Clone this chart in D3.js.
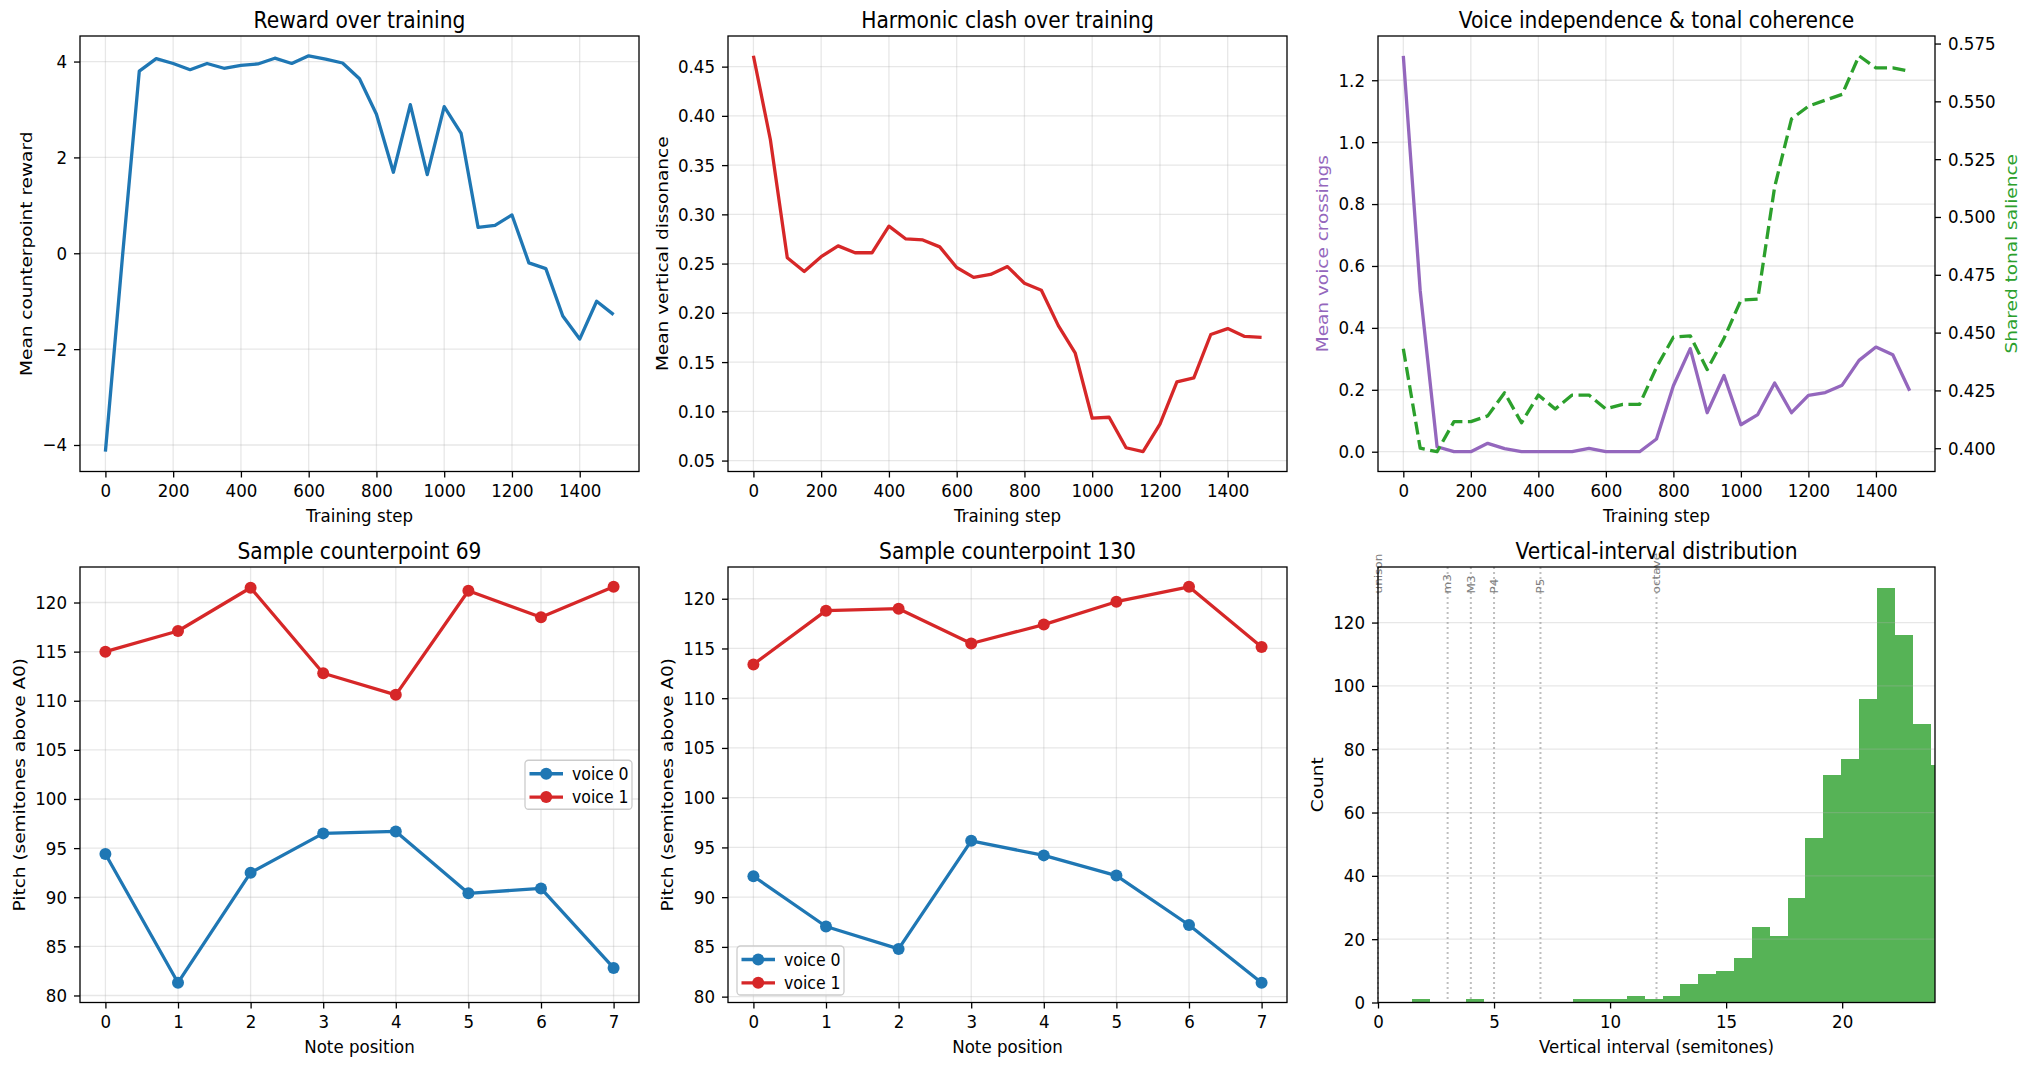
<!DOCTYPE html>
<html>
<head>
<meta charset="utf-8">
<script src="https://cdn.jsdelivr.net/npm/d3@7"></script>
<style>
body{margin:0;background:#fff}
svg text{font-family:"DejaVu Sans",sans-serif}
</style>
</head>
<body>
<div id="chart"></div>
<script>
// training curves (one value every 50 steps)
var steps = [0,50,100,150,200,250,300,350,400,450,500,550,600,650,700,750,800,850,900,950,1000,1050,1100,1150,1200,1250,1300,1350,1400,1450,1500];
var reward = [-4.14,-0.1,3.80,4.06,3.96,3.83,3.96,3.86,3.92,3.95,4.07,3.96,4.12,4.05,3.97,3.64,2.90,1.69,3.10,1.64,3.06,2.50,0.54,0.58,0.80,-0.20,-0.32,-1.31,-1.79,-1.00,-1.28];
var dissonance = [0.461,0.376,0.256,0.242,0.257,0.268,0.261,0.261,0.288,0.275,0.274,0.267,0.246,0.236,0.239,0.247,0.230,0.223,0.187,0.159,0.093,0.094,0.063,0.059,0.087,0.130,0.134,0.178,0.184,0.176,0.175];
var crossings = [1.279,0.52,0.016,0,0,0.027,0.010,0,0,0,0,0.011,0,0,0,0.041,0.213,0.333,0.126,0.246,0.087,0.120,0.222,0.126,0.182,0.191,0.215,0.295,0.338,0.313,0.197];
var salience = [0.443,0.400,0.3985,0.4115,0.4115,0.414,0.424,0.411,0.423,0.417,0.423,0.423,0.417,0.419,0.419,0.435,0.448,0.4486,0.434,0.4475,0.464,0.4645,0.513,0.5424,0.5479,0.5505,0.553,0.5697,0.5645,0.5645,0.563];

// sample counterpoints
var notePos = [0,1,2,3,4,5,6,7];
var s69v0 = [94.4,81.3,92.5,96.5,96.7,90.4,90.9,82.8];
var s69v1 = [115.0,117.1,121.5,112.8,110.6,121.2,118.5,121.6];
var s130v0 = [92.1,87.05,84.8,95.66,94.2,92.17,87.2,81.4];
var s130v1 = [113.4,118.8,119.0,115.5,117.4,119.7,121.2,115.15];

// vertical interval histogram
var binEdges = [1.48,2.25,3.02,3.79,4.56,5.33,6.10,6.87,7.64,8.41,9.18,9.95,10.72,11.49,12.26,13.03,13.80,14.57,15.34,16.11,16.88,17.65,18.42,19.19,19.96,20.73,21.50,22.27,23.04,23.81,24.58];
var binCounts = [1,0,0,1,0,0,0,0,0,1,1,1,2,1,2,6,9,10,14,24,21,33,52,72,77,96,131,116,88,75];
var intervalPos = [0,3,4,5,7,12];
var intervalNames = ["unison","m3","M3","P4","P5","octave"];

// tick labels
var stepTicks = [0,200,400,600,800,1000,1200,1400];
var rewardTicks = [-4,-2,0,2,4];
var dissTicks = [0.05,0.10,0.15,0.20,0.25,0.30,0.35,0.40,0.45];
var crossTicks = [0,0.2,0.4,0.6,0.8,1.0,1.2];
var salTicks = [0.400,0.425,0.450,0.475,0.500,0.525,0.550,0.575];
var pitchTicks = [80,85,90,95,100,105,110,115,120];
var countTicks = [0,20,40,60,80,100,120];
var intTicks = [0,5,10,15,20];

var BLUE="#1f77b4", RED="#d62728", PURPLE="#9467bd", GREEN="#2ca02c";
var TX = 0.9;             // text in the reference is a bit narrow
var FS = 18.5, FT = 22.5, FL = 17.5, FI = 12;
var LW = 3.3;

var svg = d3.select("#chart").append("svg").attr("width",2030).attr("height",1068);

var colX = [[80,639],[728,1287],[1378,1935]];
var rowY = [[36,471.5],[567,1002.5]];

function pad5(lo,hi){ var d=(hi-lo)*0.05; return [lo-d,hi+d]; }

function squeeze(sel){
  sel.each(function(){
    var t=d3.select(this);
    var x=+t.attr("x")||0, y=+t.attr("y")||0;
    t.attr("x",null).attr("y",null)
     .attr("transform","translate("+x+","+y+") scale("+TX+",1)");
  });
}

function panel(c,r,title){
  var p={l:colX[c][0],r:colX[c][1],t:rowY[r][0],b:rowY[r][1]};
  p.g=svg.append("g");
  p.grid=p.g.append("g");
  p.data=p.g.append("g");
  p.top=p.g.append("g");
  p.g.append("text").attr("font-size",FT).attr("text-anchor","middle")
    .attr("transform","translate("+((p.l+p.r)/2)+","+(p.t-8)+") scale("+TX+",1)")
    .text(title);
  return p;
}

function frame(p){
  p.top.append("rect").attr("x",p.l).attr("y",p.t).attr("width",p.r-p.l).attr("height",p.b-p.t)
    .attr("fill","none").attr("stroke","#000").attr("stroke-width",1.3);
}

function gridX(p,sx,ticks){
  p.grid.selectAll(null).data(ticks).enter().append("line")
    .attr("x1",function(d){return sx(d);}).attr("x2",function(d){return sx(d);})
    .attr("y1",p.t).attr("y2",p.b)
    .attr("stroke","#b0b0b0").attr("stroke-opacity",0.3).attr("stroke-width",1.3);
}
function gridY(p,sy,ticks){
  p.grid.selectAll(null).data(ticks).enter().append("line")
    .attr("y1",function(d){return sy(d);}).attr("y2",function(d){return sy(d);})
    .attr("x1",p.l).attr("x2",p.r)
    .attr("stroke","#b0b0b0").attr("stroke-opacity",0.3).attr("stroke-width",1.3);
}

function styleAxis(g){
  g.attr("font-size",FS).attr("font-family","DejaVu Sans");
  g.select(".domain").remove();
  g.selectAll(".tick line").attr("stroke","#000").attr("stroke-width",1.3);
  g.selectAll(".tick text").attr("fill","#000");
  squeeze(g.selectAll(".tick text"));
}

function xAxis(p,sx,ticks,fmt){
  var g=p.top.append("g").attr("transform","translate(0,"+p.b+")")
    .call(d3.axisBottom(sx).tickValues(ticks).tickFormat(fmt).tickSize(6).tickPadding(6.8));
  styleAxis(g);
  return g;
}
function yAxis(p,sy,ticks,fmt,right){
  var ax = right ? d3.axisRight(sy) : d3.axisLeft(sy);
  var g=p.top.append("g").attr("transform","translate("+(right?p.r:p.l)+",0)")
    .call(ax.tickValues(ticks).tickFormat(fmt).tickSize(6).tickPadding(7));
  styleAxis(g);
  return g;
}

function xLabel(p,txt){
  p.g.append("text").attr("font-size",FS).attr("text-anchor","middle")
    .attr("transform","translate("+((p.l+p.r)/2)+","+(p.b+50)+") scale("+TX+",1)")
    .text(txt);
}
function yLabel(p,axG,txt,col,right){
  var bb=axG.node().getBBox();
  var x = right ? p.r+bb.x+bb.width+6.4+0.93*FS*TX : p.l+bb.x-6.4-0.24*FS*TX;
  p.g.append("text").attr("font-size",FS).attr("text-anchor","middle").attr("fill",col||"#000")
    .attr("transform","translate("+x+","+((p.t+p.b)/2)+") scale("+TX+",1) rotate(-90)")
    .text(txt);
}

function drawLine(p,sx,sy,xs,ys,col,dash){
  var line=d3.line().x(function(d,i){return sx(xs[i]);}).y(function(d){return sy(d);});
  p.data.append("path").datum(ys).attr("d",line).attr("fill","none")
    .attr("stroke",col).attr("stroke-width",LW).attr("stroke-linejoin","round")
    .attr("stroke-dasharray",dash||null);
}
function drawDots(p,sx,sy,xs,ys,col){
  p.data.selectAll(null).data(ys).enter().append("circle")
    .attr("cx",function(d,i){return sx(xs[i]);}).attr("cy",function(d){return sy(d);})
    .attr("r",6).attr("fill",col);
}

function legend(p,x,y,names,cols){
  var lg=p.top.append("g").attr("transform","translate("+x+","+y+")");
  lg.append("rect").attr("width",107).attr("height",49).attr("rx",3.5)
    .attr("fill","#fff").attr("fill-opacity",0.8).attr("stroke","#cccccc").attr("stroke-width",1.3);
  names.forEach(function(n,i){
    var cy=13.5+i*23.3;
    lg.append("line").attr("x1",4.5).attr("x2",38).attr("y1",cy).attr("y2",cy)
      .attr("stroke",cols[i]).attr("stroke-width",LW);
    lg.append("circle").attr("cx",21.2).attr("cy",cy).attr("r",6).attr("fill",cols[i]);
    lg.append("text").attr("font-size",FL).attr("dy","0.35em")
      .attr("transform","translate(47,"+cy+") scale("+TX+",1)").text(n);
  });
}

// ---- 1: reward
(function(){
  var p=panel(0,0,"Reward over training");
  var sx=d3.scaleLinear().domain(pad5(0,1500)).range([p.l,p.r]);
  var sy=d3.scaleLinear().domain(pad5(d3.min(reward),d3.max(reward))).range([p.b,p.t]);
  gridX(p,sx,stepTicks); gridY(p,sy,rewardTicks);
  drawLine(p,sx,sy,steps,reward,BLUE);
  frame(p);
  xAxis(p,sx,stepTicks,d3.format("d"));
  var ay=yAxis(p,sy,rewardTicks,d3.format("d"));
  xLabel(p,"Training step");
  yLabel(p,ay,"Mean counterpoint reward");
})();

// ---- 2: dissonance
(function(){
  var p=panel(1,0,"Harmonic clash over training");
  var sx=d3.scaleLinear().domain(pad5(0,1500)).range([p.l,p.r]);
  var sy=d3.scaleLinear().domain(pad5(d3.min(dissonance),d3.max(dissonance))).range([p.b,p.t]);
  gridX(p,sx,stepTicks); gridY(p,sy,dissTicks);
  drawLine(p,sx,sy,steps,dissonance,RED);
  frame(p);
  xAxis(p,sx,stepTicks,d3.format("d"));
  var ay=yAxis(p,sy,dissTicks,d3.format(".2f"));
  xLabel(p,"Training step");
  yLabel(p,ay,"Mean vertical dissonance");
})();

// ---- 3: crossings + salience (twin axes)
(function(){
  var p=panel(2,0,"Voice independence & tonal coherence");
  var sx=d3.scaleLinear().domain(pad5(0,1500)).range([p.l,p.r]);
  var sy=d3.scaleLinear().domain(pad5(d3.min(crossings),d3.max(crossings))).range([p.b,p.t]);
  var sy2=d3.scaleLinear().domain(pad5(d3.min(salience),d3.max(salience))).range([p.b,p.t]);
  gridX(p,sx,stepTicks); gridY(p,sy,crossTicks);
  drawLine(p,sx,sy,steps,crossings,PURPLE);
  drawLine(p,sx,sy2,steps,salience,GREEN,"13,5.5");
  frame(p);
  xAxis(p,sx,stepTicks,d3.format("d"));
  var ay=yAxis(p,sy,crossTicks,d3.format(".1f"));
  var ay2=yAxis(p,sy2,salTicks,d3.format(".3f"),true);
  xLabel(p,"Training step");
  yLabel(p,ay,"Mean voice crossings",PURPLE);
  yLabel(p,ay2,"Shared tonal salience",GREEN,true);
})();

// ---- 4 & 5: sample counterpoints
function samplePanel(c,title,v0,v1,lgx,lgy){
  var p=panel(c,1,title);
  var sx=d3.scaleLinear().domain(pad5(0,7)).range([p.l,p.r]);
  var all=v0.concat(v1);
  var sy=d3.scaleLinear().domain(pad5(d3.min(all),d3.max(all))).range([p.b,p.t]);
  gridX(p,sx,notePos); gridY(p,sy,pitchTicks);
  drawLine(p,sx,sy,notePos,v0,BLUE); drawDots(p,sx,sy,notePos,v0,BLUE);
  drawLine(p,sx,sy,notePos,v1,RED); drawDots(p,sx,sy,notePos,v1,RED);
  frame(p);
  xAxis(p,sx,notePos,d3.format("d"));
  var ay=yAxis(p,sy,pitchTicks,d3.format("d"));
  xLabel(p,"Note position");
  yLabel(p,ay,"Pitch (semitones above A0)");
  legend(p,lgx(p),lgy(p),["voice 0","voice 1"],[BLUE,RED]);
}
samplePanel(0,"Sample counterpoint 69",s69v0,s69v1,
  function(p){return p.r-7-107;}, function(p){return (p.t+p.b)/2-24.5;});
samplePanel(1,"Sample counterpoint 130",s130v0,s130v1,
  function(p){return p.l+9;}, function(p){return p.b-7.5-49;});

// ---- 6: histogram
(function(){
  var p=panel(2,1,"Vertical-interval distribution");
  var sx=d3.scaleLinear().domain([0,24]).range([p.l,p.r]);
  var sy=d3.scaleLinear().domain([0,d3.max(binCounts)*1.05]).range([p.b,p.t]);
  svg.append("clipPath").attr("id","histclip").append("rect")
    .attr("x",p.l).attr("y",p.t).attr("width",p.r-p.l).attr("height",p.b-p.t);
  var bars=p.g.insert("g",function(){return p.grid.node();}).attr("clip-path","url(#histclip)");
  bars.selectAll("rect").data(binCounts).enter().append("rect")
    .attr("x",function(d,i){return sx(binEdges[i]);})
    .attr("width",function(d,i){return sx(binEdges[i+1])-sx(binEdges[i]);})
    .attr("y",function(d){return sy(d);})
    .attr("height",function(d){return p.b-sy(d);})
    .attr("fill",GREEN).attr("fill-opacity",0.8)
    .attr("shape-rendering","crispEdges");
  gridY(p,sy,countTicks);
  p.data.selectAll(null).data(intervalPos).enter().append("line")
    .attr("x1",function(d){return sx(d);}).attr("x2",function(d){return sx(d);})
    .attr("y1",p.t).attr("y2",p.b)
    .attr("stroke","#808080").attr("stroke-opacity",0.5).attr("stroke-width",2)
    .attr("stroke-dasharray","2,3");
  p.data.selectAll(null).data(intervalPos).enter().append("text")
    .attr("font-size",FI).attr("fill","#808080")
    .attr("text-anchor","start").attr("dy","0.35em")
    .attr("transform",function(d){return "translate("+sx(d)+","+sy(129.2)+") scale("+TX+",1) rotate(-90)";})
    .text(function(d,i){return intervalNames[i];});
  frame(p);
  xAxis(p,sx,intTicks,d3.format("d"));
  var ay=yAxis(p,sy,countTicks,d3.format("d"));
  xLabel(p,"Vertical interval (semitones)");
  yLabel(p,ay,"Count");
})();
</script>
</body>
</html>
